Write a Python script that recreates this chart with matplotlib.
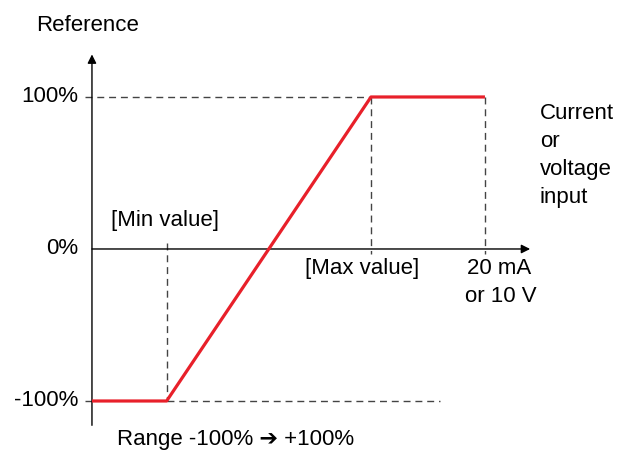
import matplotlib.pyplot as plt

plt.rcParams['font.family'] = ['Liberation Sans', 'DejaVu Sans']

# input axis (0 .. 20 mA) and reference in %
x_min_value = 3.8
x_max_value = 14.2
x_full = 20
ref_low = -100
ref_high = 100

curve_x = [0, x_min_value, x_max_value, x_full]
curve_y = [ref_low, ref_low, ref_high, ref_high]

y_ticks = [100, 0, -100]
y_tick_labels = ['100%', '0%', '-100%']

fig = plt.figure(figsize=(6.28, 4.51), dpi=100)
ax = fig.add_axes([0, 0, 1, 1])
ax.set_xlim(-4.68, 27.28)
ax.set_ylim(-132.9, 163.8)
ax.axis('off')

fs = 16
dash = dict(color='#444444', lw=1, linestyle=(0, (5, 3.5)))

# axes with arrows
ax.annotate('', xy=(22.3, 0), xytext=(0, 0),
            arrowprops=dict(arrowstyle='-|>', lw=1, color='black', mutation_scale=13, shrinkA=0, shrinkB=0))
ax.annotate('', xy=(0, 128), xytext=(0, -116),
            arrowprops=dict(arrowstyle='-|>', lw=1, color='black', mutation_scale=13, shrinkA=0, shrinkB=0))

# dashed guides
ax.plot([-0.35, x_max_value], [ref_high, ref_high], **dash)
ax.plot([x_min_value, 17.7], [ref_low, ref_low], **dash)
ax.plot([x_min_value, x_min_value], [4, ref_low], **dash)
ax.plot([x_max_value, x_max_value], [ref_high, -3.5], **dash)
ax.plot([x_full, x_full], [ref_high, -3.5], **dash)
ax.plot([-0.35, 0], [ref_low, ref_low], **dash)

# red transfer curve
ax.plot(curve_x, curve_y, color='#e8202a', lw=2.3, solid_capstyle='butt', zorder=5)

for v, lab in zip(y_ticks, y_tick_labels):
    ax.text(-0.7, v, lab, ha='right', va='center', fontsize=fs)

ax.text(-2.85, 147, 'Reference', ha='left', va='center', fontsize=fs)
ax.text(0.95, 18.5, '[Min value]', ha='left', va='center', fontsize=fs)
ax.text(10.85, -13, '[Max value]', ha='left', va='center', fontsize=fs)
ax.text(20.7, -13, '20 mA', ha='center', va='center', fontsize=fs)
ax.text(20.8, -31.5, 'or 10 V', ha='center', va='center', fontsize=fs)
ax.text(22.8, 61.5, 'Current\nor\nvoltage\ninput', ha='left', va='center',
        fontsize=fs, linespacing=1.45)
ax.text(1.25, -125.3, 'Range -100% \u2794 +100%', ha='left', va='center', fontsize=fs)

fig.savefig('out.png', dpi=100)
